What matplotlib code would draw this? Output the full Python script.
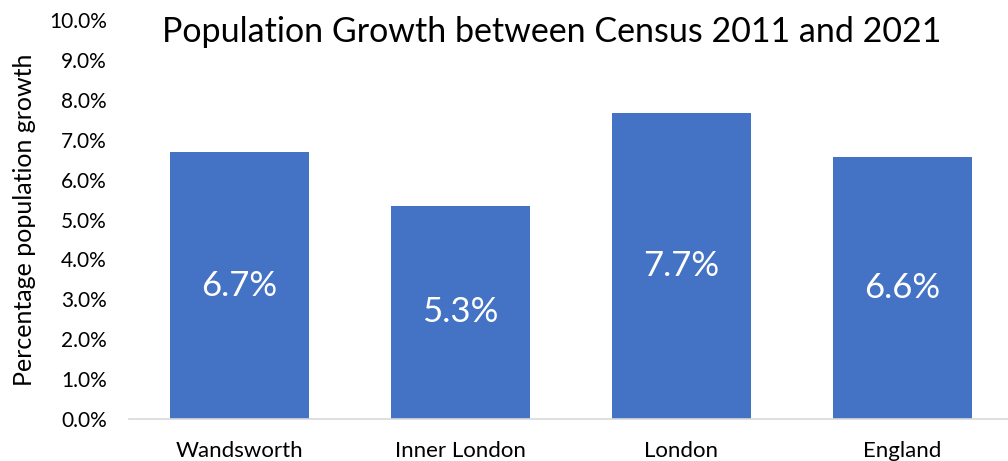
import numpy as np
import matplotlib.pyplot as plt
from matplotlib.ticker import PercentFormatter

areas = ["Wandsworth", "Inner London", "London", "England"]
growth = [6.69, 5.34, 7.67, 6.57]  # % growth 2011-2021

plt.rcParams['font.family'] = ['Lato', 'DejaVu Sans']

fig = plt.figure(figsize=(10.08, 4.61), dpi=100)
ax = fig.add_axes([129 / 1008, 1 - 419 / 461, (1013 - 129) / 1008, (419 - 20) / 461])

x = np.arange(len(areas))
bars = ax.bar(x, growth, width=0.625, color="#4472C4")

for b, v in zip(bars, growth):
    ax.text(b.get_x() + b.get_width() / 2, v / 2, "{:.1f}%".format(v),
            ha="center", va="center", color="white", fontsize=25)

ax.set_xlim(-0.5, len(areas) - 0.5)
ax.set_ylim(0, 10)
ax.set_yticks(np.arange(0, 10.5, 1))
ax.yaxis.set_major_formatter(PercentFormatter(decimals=1))
ax.set_xticks(x)
ax.set_xticklabels(areas)

for s in ["top", "right", "left"]:
    ax.spines[s].set_visible(False)
ax.spines["bottom"].set_color("#D9D9D9")
ax.spines["bottom"].set_linewidth(1.2)
ax.tick_params(axis="both", length=0, colors="#000000")
ax.tick_params(axis="y", labelsize=15, pad=16)
ax.tick_params(axis="x", labelsize=16, pad=16)

ax.set_ylabel("Percentage population growth", fontsize=18, labelpad=9)
fig.text(0.547, 0.93, "Population Growth between Census 2011 and 2021",
         ha="center", va="center", fontsize=24.5)

fig.savefig("out.png", dpi=100)
